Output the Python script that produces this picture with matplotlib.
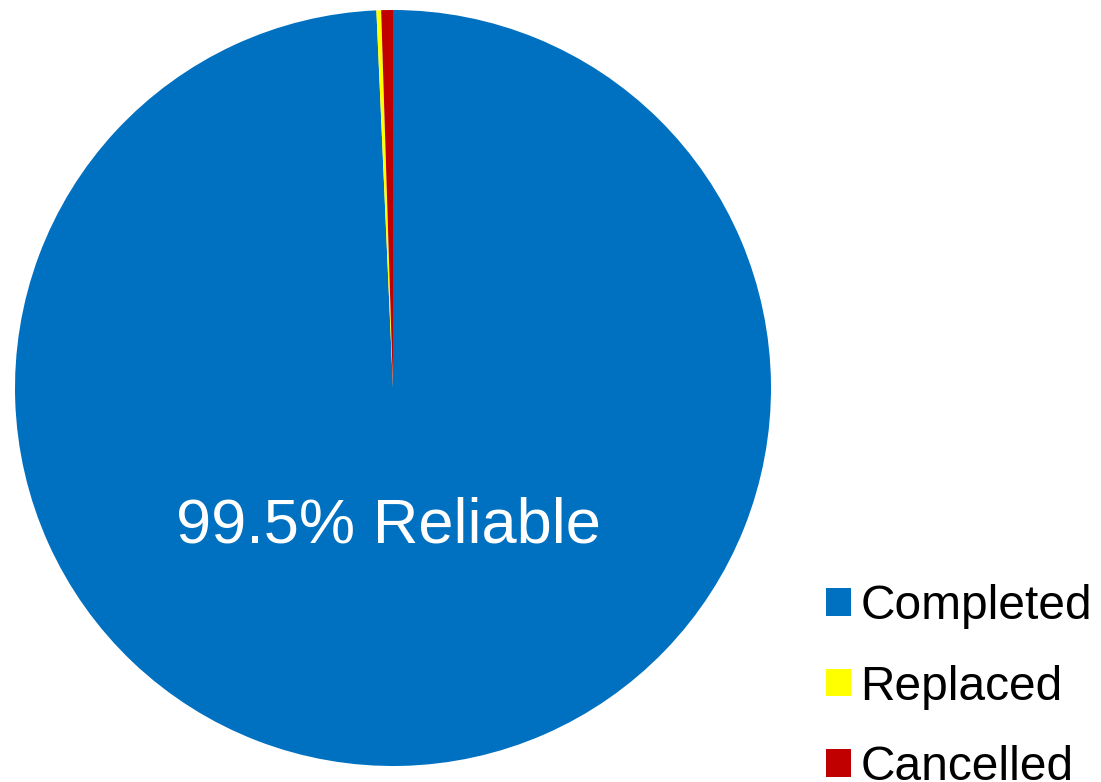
import matplotlib.pyplot as plt

# Datos del gráfico
labels = ['Completed', 'Replaced', 'Cancelled']
values = [99.3, 0.2, 0.5]
colors = ['#0070C0', '#FFFF00', '#C00000']
center_text = '99.5% Reliable'

plt.rcParams['font.family'] = ['Liberation Sans', 'DejaVu Sans']

fig = plt.figure(figsize=(11.01, 7.82), dpi=100)
ax = fig.add_axes([15 / 1101, 16 / 782, 756 / 1101, 756 / 782])

wedges, _ = ax.pie(values, colors=colors, startangle=90, counterclock=False,
                   radius=1.0, wedgeprops=dict(linewidth=0))
ax.set_xlim(-1, 1)
ax.set_ylim(-1, 1)
ax.set_aspect('equal')

ax.text(-0.013, -0.366, center_text, color='white', fontsize=45.5,
        ha='center', va='center')

# Leyenda a la derecha, abajo
fig.legend(wedges, labels, loc='center left',
           bbox_to_anchor=(826 / 1101, (782 - 687) / 782),
           frameon=False, fontsize=34.5, handlelength=0.52, handleheight=0.52,
           handletextpad=0.2, labelspacing=0.74, borderpad=0, borderaxespad=0)

plt.savefig('out.png', dpi=100)
